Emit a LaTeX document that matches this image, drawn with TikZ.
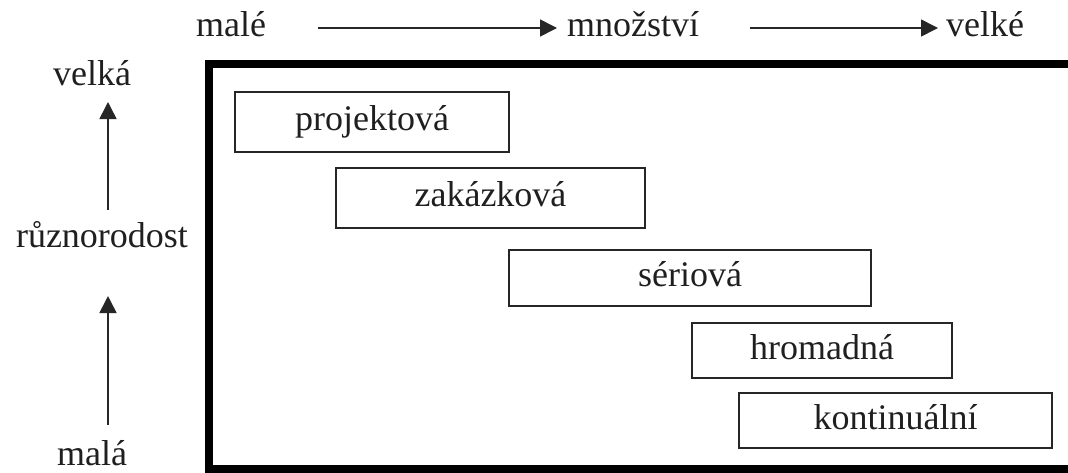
\documentclass[tikz,border=0pt]{standalone}
\usepackage{fontspec}
\setmainfont{Liberation Serif}
\usetikzlibrary{arrows.meta}

\tikzset{
  lbl/.style={anchor=base, inner sep=0pt, text=black!88,
    font=\fontsize{36}{40}\selectfont},
  kind/.style={draw=black!85, line width=1.8pt, inner sep=0pt,
    text=black!88, font=\fontsize{36}{40}\selectfont,
    text height=25pt, text depth=8pt},
  frame/.style={line width=8pt, draw=black},
  axis/.style={line width=1.6pt, draw=black!85,
    -{Triangle[length=17pt,width=17pt]}},
}

\begin{document}
\begin{tikzpicture}[x=1pt,y=-1pt]
  \useasboundingbox (0,0) rectangle (1068,472);

  % outer frame (its right and bottom sides run past the page edge)
  \draw[frame] (209,64) rectangle (1074,469);

  % horizontal axis: quantity
  \node[lbl] (male) at (231,36) {malé};
  \node[lbl] (mnozstvi) at (633,36) {množství};
  \node[lbl] (velke) at (985,36) {velké};
  \coordinate (h1s) at (318,28);
  \coordinate (h1e) at (557,28);
  \coordinate (h2s) at (750,28);
  \coordinate (h2e) at (938,28);
  \draw[axis] (h1s) -- (h1e);
  \draw[axis] (h2s) -- (h2e);

  % vertical axis: diversity
  \node[lbl] (velka) at (92,85) {velká};
  \node[lbl] (ruzn) at (102,247) {různorodost};
  \node[lbl] (mala) at (92,465) {malá};
  \coordinate (v1s) at (108,210);
  \coordinate (v1e) at (108,102);
  \coordinate (v2s) at (108,425);
  \coordinate (v2e) at (108,296);
  \draw[axis] (v1s) -- (v1e);
  \draw[axis] (v2s) -- (v2e);

  % production types
  \node[kind, minimum width=274pt, minimum height=60pt] (proj) at (372,122) {projektová};
  \node[kind, minimum width=309pt, minimum height=60pt] (zak) at (490.5,198) {zakázková};
  \node[kind, minimum width=362pt, minimum height=56pt] (ser) at (690,278) {sériová};
  \node[kind, minimum width=260pt, minimum height=55pt] (hrom) at (822,350.5) {hromadná};
  \node[kind, minimum width=313pt, minimum height=55pt] (kont) at (895.5,420.5) {kontinuální};
\end{tikzpicture}
\end{document}
